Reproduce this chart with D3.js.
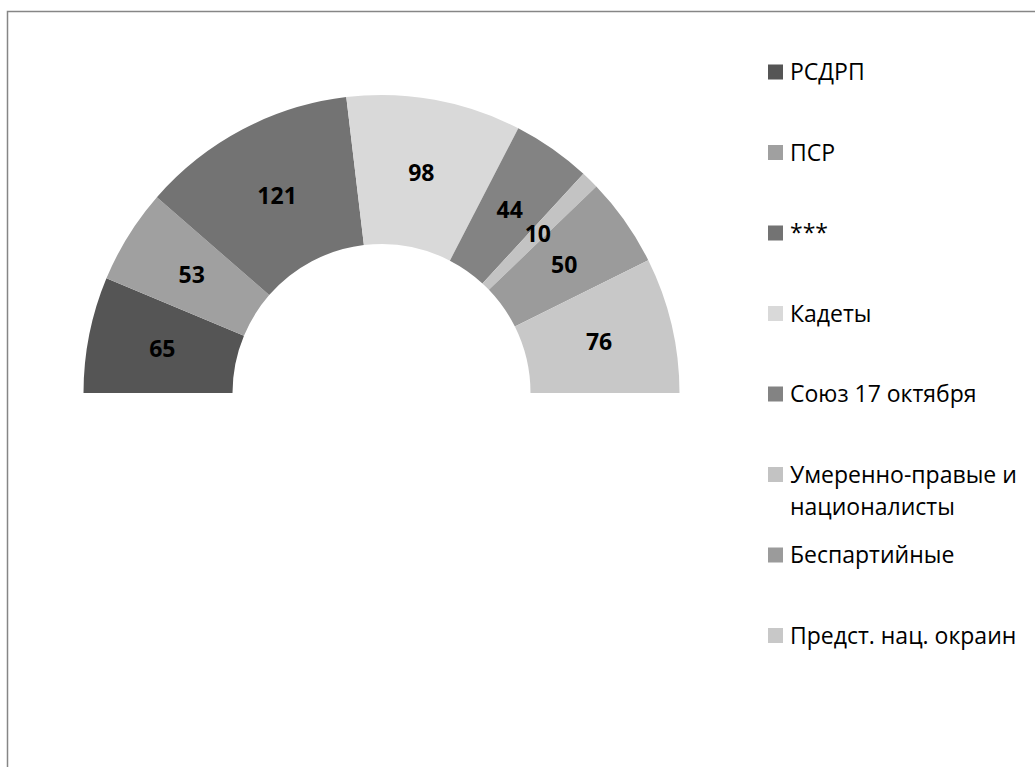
<!DOCTYPE html>
<html>
<head>
<meta charset="utf-8">
<script src="https://cdn.jsdelivr.net/npm/d3@7"></script>
<style>
  html, body { margin: 0; padding: 0; background: #fff; overflow: hidden; }
  svg { display: block; }
</style>
</head>
<body>
<svg id="chart" width="1035" height="767"></svg>
<script>
// party names and seats
var parties = ["РСДРП", "ПСР", "***", "Кадеты", "Союз 17 октября",
  "Умеренно-правые и националисты", "Беспартийные", "Предст. нац. окраин"];
var seats = [65, 53, 121, 98, 44, 10, 50, 76];
var greys = ["#555555", "#a0a0a0", "#737373", "#d9d9d9", "#838383", "#c3c3c3", "#9b9b9b", "#c8c8c8"];
// legend lines (wrapped as in the picture)
var legendLines = [["РСДРП"], ["ПСР"], ["***"], ["Кадеты"], ["Союз 17 октября"],
  ["Умеренно-правые и", "националисты"], ["Беспартийные"], ["Предст. нац. окраин"]];

var svg = d3.select("#chart");
var font = "'Open Sans', sans-serif";

// chart frame (runs off the bottom/right edge)
svg.append("rect")
  .attr("x", 7.5).attr("y", 11.5)
  .attr("width", 1100).attr("height", 800)
  .attr("fill", "#fff")
  .attr("stroke", "#868686")
  .attr("stroke-width", 1.5);

var cx = 381.5, cy = 393, outer = 298, inner = 149;

var pie = d3.pie().sort(null).value(d => d)
  .startAngle(-Math.PI / 2).endAngle(Math.PI / 2);
var arc = d3.arc().innerRadius(inner).outerRadius(outer);

var color = d3.scaleOrdinal().domain(parties).range(greys);

var g = svg.append("g").attr("transform", `translate(${cx},${cy})`);
var arcs = pie(seats);

g.selectAll("path")
  .data(arcs)
  .join("path")
  .attr("d", arc)
  .attr("fill", (d, i) => color(parties[i]));

g.selectAll("text")
  .data(arcs)
  .join("text")
  .attr("transform", d => `translate(${arc.centroid(d)})`)
  .attr("text-anchor", "middle")
  .attr("dy", "0.36em")
  .style("font-family", font)
  .style("font-weight", "bold")
  .style("font-size", "23px")
  .attr("fill", "#000")
  .text(d => d.data);

// legend
var legendY = d3.scalePoint().domain(parties).range([72, 635.5]);
var legend = svg.append("g");
var item = legend.selectAll("g")
  .data(parties)
  .join("g")
  .attr("transform", d => `translate(768,${legendY(d)})`);

item.append("rect")
  .attr("x", 0).attr("y", -7.5)
  .attr("width", 15).attr("height", 15)
  .attr("fill", d => color(d));

item.append("text")
  .style("font-family", font)
  .style("font-size", "23px")
  .attr("fill", "#000")
  .selectAll("tspan")
  .data((d, i) => legendLines[i])
  .join("tspan")
  .attr("x", 22)
  .attr("y", (d, j) => j * 32)
  .attr("dy", "0.36em")
  .text(d => d);
</script>
</body>
</html>
